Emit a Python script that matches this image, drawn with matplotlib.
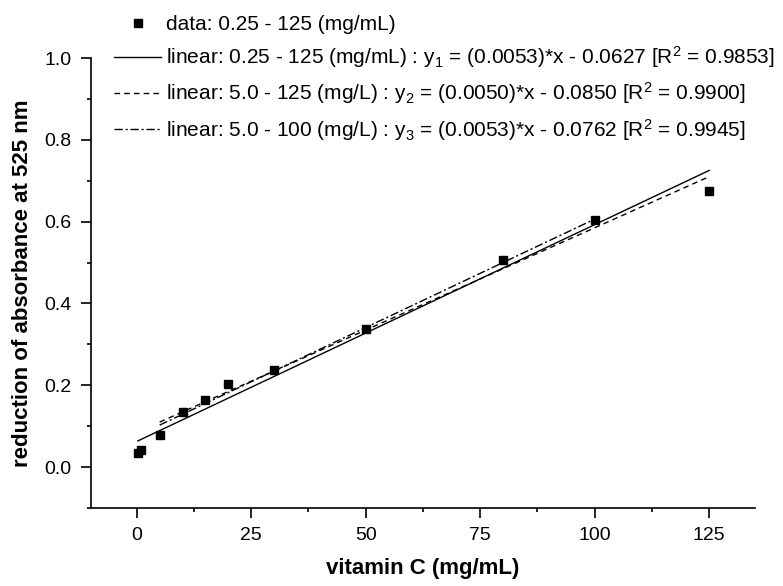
import matplotlib
matplotlib.use("Agg")
import matplotlib.pyplot as plt
from matplotlib.ticker import MultipleLocator

plt.rcParams["font.family"] = ["Liberation Sans", "DejaVu Sans"]
plt.rcParams["mathtext.fontset"] = "custom"
plt.rcParams["mathtext.rm"] = "Liberation Sans"
plt.rcParams["mathtext.it"] = "Liberation Sans:italic"
plt.rcParams["mathtext.bf"] = "Liberation Sans:bold"

# measured points
conc = [0.25, 1.0, 5, 10, 15, 20, 30, 50, 80, 100, 125]
absorb = [0.035, 0.042, 0.078, 0.134, 0.165, 0.204, 0.237, 0.337, 0.506, 0.605, 0.676]

# fits: slope, intercept, x range
fit1 = (0.0053, 0.0627, 0.25, 125)
fit2 = (0.0050, 0.0850, 5.0, 125)
fit3 = (0.0053, 0.0762, 5.0, 100)

labels = [
    "data: 0.25 - 125 (mg/mL)",
    "linear: 0.25 - 125 (mg/mL) : y$_1$ = (0.0053)*x - 0.0627 [R$^2$ = 0.9853]",
    "linear: 5.0 - 125 (mg/L) : y$_2$ = (0.0050)*x - 0.0850 [R$^2$ = 0.9900]",
    "linear: 5.0 - 100 (mg/L) : y$_3$ = (0.0053)*x - 0.0762 [R$^2$ = 0.9945]",
]

fig = plt.figure(figsize=(7.83, 5.86), dpi=100)
ax = fig.add_axes([0.1162, 0.1331, 0.848, 0.7679])

h0, = ax.plot(conc, absorb, ls="none", marker="s", ms=6, color="black")
styles = ["-", (0, (4, 3)), (0, (6, 2, 1.5, 2))]
handles = [h0]
for (m, b, x0, x1), st in zip([fit1, fit2, fit3], styles):
    h, = ax.plot([x0, x1], [m * x0 + b, m * x1 + b], color="black", lw=1.0, ls=st)
    handles.append(h)

ax.set_xlim(-10, 135)
ax.set_ylim(-0.1, 1.0)
ax.xaxis.set_major_locator(MultipleLocator(25))
ax.xaxis.set_minor_locator(MultipleLocator(12.5))
ax.yaxis.set_major_locator(MultipleLocator(0.2))
ax.yaxis.set_minor_locator(MultipleLocator(0.1))
ax.set_yticks([0.0, 0.2, 0.4, 0.6, 0.8, 1.0])
ax.set_yticklabels(["0.0", "0.2", "0.4", "0.6", "0.8", "1.0"])
ax.spines["top"].set_visible(False)
ax.spines["right"].set_visible(False)
for s in ("left", "bottom"):
    ax.spines[s].set_linewidth(1.2)
ax.tick_params(which="major", direction="out", length=7, width=1.2, labelsize=14, pad=7)
ax.tick_params(which="minor", direction="out", length=3, width=1.2)

ax.set_xlabel("vitamin C (mg/mL)", fontsize=16, fontweight="bold", labelpad=10)
ax.set_ylabel("reduction of absorbance at 525 nm", fontsize=16, fontweight="bold", labelpad=8)

fig.legend(handles, labels, loc="upper left", bbox_to_anchor=(0.130, 0.996),
           frameon=False, fontsize=15, handlelength=2.25, handletextpad=0.25,
           labelspacing=0.5, borderaxespad=0.2)

fig.savefig("out.png", dpi=100)
